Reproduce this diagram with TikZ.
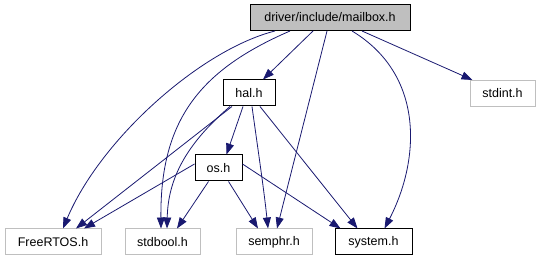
\documentclass[tikz,border=0pt]{standalone}
\usepackage{fontspec}
\setmainfont{Liberation Sans}
\usetikzlibrary{arrows.meta}
\definecolor{edgeblue}{RGB}{25,25,112}
\definecolor{extgray}{RGB}{191,191,191}

\tikzset{
  hdr/.style={draw=black, line width=1pt, fill=white, inner sep=0pt,
    minimum height=26pt, font=\fontsize{12.5}{15}\selectfont},
  exthdr/.style={hdr, draw=extgray},
  roothdr/.style={hdr, fill=extgray},
  dep/.style={draw=edgeblue, line width=0.8pt, -{Triangle[length=11pt,width=8pt]}}
}

\begin{document}
\begin{tikzpicture}[x=1pt,y=-1pt]
\useasboundingbox (0,0) rectangle (541,261);

% headers
\node[roothdr, minimum width=160pt] (mailbox) at (330,17.5) {driver/include/mailbox.h};
\node[hdr, minimum width=52pt] (hal) at (249,93) {hal.h};
\node[exthdr, minimum width=65pt] (stdint) at (502.5,93.5) {stdint.h};
\node[hdr, minimum width=47pt] (os) at (218.5,168) {os.h};
\node[exthdr, minimum width=96pt] (freertos) at (53,242) {FreeRTOS.h};
\node[exthdr, minimum width=75pt] (stdbool) at (162.5,242) {stdbool.h};
\node[exthdr, minimum width=76pt] (semphr) at (274,242) {semphr.h};
\node[hdr, minimum width=77pt] (system) at (373.5,242) {system.h};

% mailbox.h includes
\draw[dep] ([xshift=-17pt]mailbox.south) -- ([xshift=14pt]hal.north);
\draw[dep] ([xshift=-55pt]mailbox.south) .. controls (200,50) and (100,140) .. ([xshift=10pt]freertos.north);
\draw[dep] ([xshift=-40pt]mailbox.south) .. controls (200,70) and (160,120) .. ([xshift=-1.5pt]stdbool.north);
\draw[dep] ([xshift=-3pt]mailbox.south) -- ([xshift=3pt]semphr.north);
\draw[dep] ([xshift=22pt]mailbox.south) .. controls (425,75) and (420,160) .. ([xshift=11pt]system.north);
\draw[dep] ([xshift=32pt]mailbox.south) -- ([xshift=-30pt]stdint.north);

% hal.h includes
\draw[dep] ([xshift=-6pt]hal.south) -- ([xshift=8pt]os.north);
\draw[dep] ([xshift=-17pt]hal.south) -- ([xshift=23pt]freertos.north);
\draw[dep] ([xshift=-19pt]hal.south) .. controls (185,145) and (168,180) .. ([xshift=4.5pt]stdbool.north);
\draw[dep] ([xshift=3pt]hal.south) .. controls (258,150) and (264,190) .. ([xshift=-6pt]semphr.north);
\draw[dep] ([xshift=11pt]hal.south) -- ([xshift=-16pt]system.north);

% os.h includes
\draw[dep] ([yshift=4pt]os.west) -- ([xshift=31pt]freertos.north);
\draw[dep] ([xshift=-10pt]os.south) -- ([xshift=14.5pt]stdbool.north);
\draw[dep] ([xshift=10pt]os.south) -- ([xshift=-16pt]semphr.north);
\draw[dep] ([yshift=4pt]os.east) -- ([xshift=-33pt]system.north);
\end{tikzpicture}
\end{document}
